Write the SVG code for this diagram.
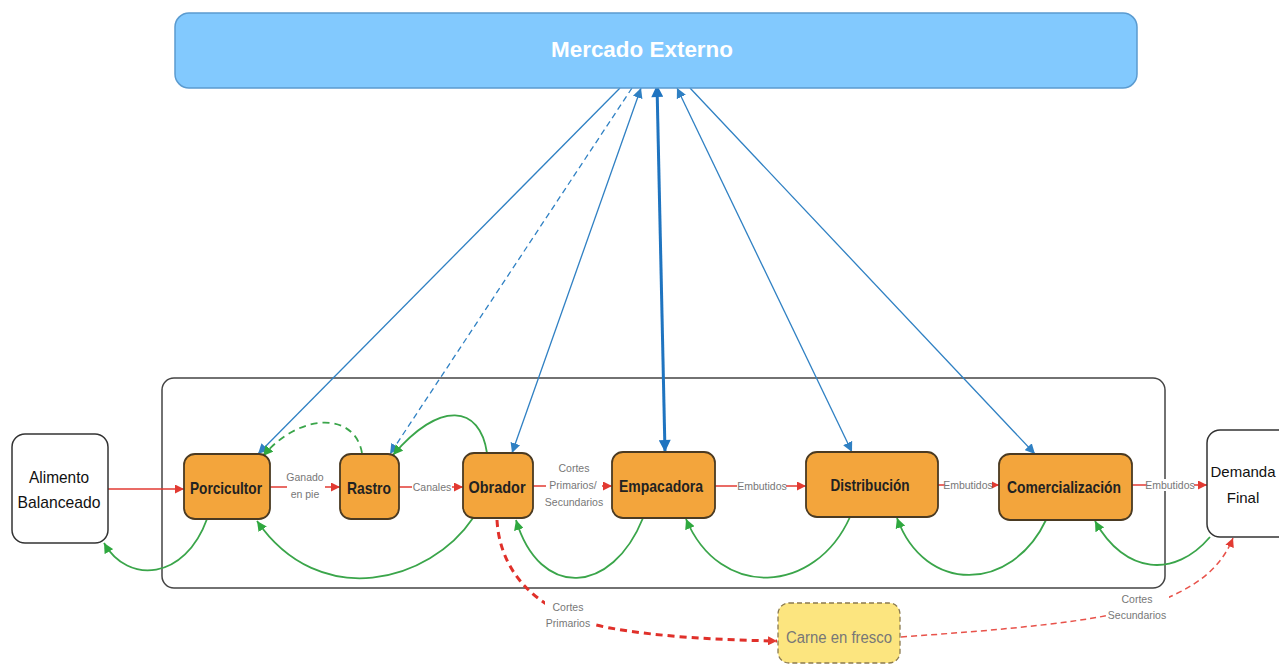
<svg xmlns="http://www.w3.org/2000/svg" width="1279" height="665" viewBox="0 0 1279 665">
  <style>
    .stage { fill: #f3a53c; stroke: #4a3a22; stroke-width: 1.8; }
    .plain { fill: #ffffff; stroke: #333333; stroke-width: 1.5; }
    .nt { font-family: "Liberation Sans", Arial, sans-serif; font-weight: bold; font-size: 17px; fill: #222222; text-anchor: middle; }
    .pt { font-family: "Liberation Sans", Arial, sans-serif; font-size: 17px; fill: #111111; text-anchor: middle; }
    .lbl { font-family: "Liberation Sans", Arial, sans-serif; font-size: 10.5px; fill: #777777; text-anchor: middle; }
    .lblbg { fill: #ffffff; }
    .red { fill: none; stroke: #e23a32; stroke-width: 1.5; }
    .blue { fill: none; stroke: #2f80c3; stroke-width: 1.3; }
    .green { fill: none; stroke: #3aa54a; stroke-width: 1.8; }
  </style>
  <defs>
    <marker id="ahRed" viewBox="0 0 10 10" refX="10" refY="5" markerWidth="9" markerHeight="9" markerUnits="userSpaceOnUse" orient="auto-start-reverse">
      <path d="M0,0 L10,5 L0,10 z" fill="#e23a32"/>
    </marker>
    <marker id="ahBlue" viewBox="0 0 10 10" refX="10" refY="5" markerWidth="10" markerHeight="10" markerUnits="userSpaceOnUse" orient="auto-start-reverse">
      <path d="M0,0 L10,5 L0,10 z" fill="#2f80c3"/>
    </marker>
    <marker id="ahBlueBig" viewBox="0 0 10 10" refX="10" refY="5" markerWidth="13" markerHeight="12" markerUnits="userSpaceOnUse" orient="auto-start-reverse">
      <path d="M0,0 L10,5 L0,10 z" fill="#1f74c0"/>
    </marker>
    <marker id="ahGreen" viewBox="0 0 10 10" refX="10" refY="5" markerWidth="10" markerHeight="10" markerUnits="userSpaceOnUse" orient="auto-start-reverse">
      <path d="M0,0 L10,5 L0,10 z" fill="#2fa83f"/>
    </marker>
  </defs>

  <rect width="1279" height="665" fill="#ffffff"/>

  <!-- supply chain frame -->
  <rect id="frame" x="162" y="378" width="1003" height="210" rx="12" fill="none" stroke="#444444" stroke-width="1.5"/>

  <g id="connectors">
    <!-- links to the external market -->
    <line class="blue" x1="620" y1="88" x2="258" y2="454" marker-end="url(#ahBlue)"/>
    <line class="blue" x1="632" y1="88" x2="390" y2="454" stroke-dasharray="6 4" marker-end="url(#ahBlue)"/>
    <line class="blue" x1="641" y1="88" x2="512" y2="453" marker-start="url(#ahBlue)" marker-end="url(#ahBlue)"/>
    <line x1="657" y1="85" x2="665" y2="452" fill="none" stroke="#1f74c0" stroke-width="3" marker-start="url(#ahBlueBig)" marker-end="url(#ahBlueBig)"/>
    <line class="blue" x1="677" y1="88" x2="852" y2="452" marker-start="url(#ahBlue)" marker-end="url(#ahBlue)"/>
    <line class="blue" x1="690" y1="88" x2="1035" y2="454" marker-end="url(#ahBlue)"/>

    <!-- forward product flow -->
    <line class="red" x1="108" y1="489" x2="184" y2="489" marker-end="url(#ahRed)"/>
    <line class="red" x1="270" y1="487" x2="340" y2="487" marker-end="url(#ahRed)"/>
    <line class="red" x1="399" y1="487" x2="463" y2="487" marker-end="url(#ahRed)"/>
    <line class="red" x1="533" y1="486" x2="612" y2="486" marker-end="url(#ahRed)"/>
    <line class="red" x1="715" y1="486" x2="806" y2="486" marker-end="url(#ahRed)"/>
    <line class="red" x1="938" y1="485" x2="999" y2="485" marker-end="url(#ahRed)"/>
    <line class="red" x1="1132" y1="485" x2="1207" y2="485" marker-end="url(#ahRed)"/>

    <!-- fresh meat channel -->
    <path d="M 497 520 C 500 575, 540 615, 610 628 C 660 637, 720 640, 777 641" fill="none" stroke="#e0302a" stroke-width="3" stroke-dasharray="7 5" marker-end="url(#ahRed)"/>
    <path d="M 901 637 C 1000 630, 1100 622, 1150 605 C 1195 588, 1220 570, 1233 538" fill="none" stroke="#e8524a" stroke-width="1.5" stroke-dasharray="6 4" marker-end="url(#ahRed)"/>

    <!-- feedback flows -->
    <path class="green" d="M 207 519 C 185 580, 128 585, 104 543" marker-end="url(#ahGreen)"/>
    <path class="green" d="M 473 518 C 430 582, 320 612, 257 521" marker-end="url(#ahGreen)"/>
    <path class="green" d="M 643 518 C 612 595, 540 600, 516 520" marker-end="url(#ahGreen)"/>
    <path class="green" d="M 850 517 C 815 595, 720 600, 686 519" marker-end="url(#ahGreen)"/>
    <path class="green" d="M 1046 520 C 1012 592, 925 595, 897 518" marker-end="url(#ahGreen)"/>
    <path class="green" d="M 1210 537 C 1175 578, 1125 575, 1095 521" marker-end="url(#ahGreen)"/>
    <path class="green" d="M 487 453 C 480 405, 440 400, 393 455" marker-end="url(#ahGreen)"/>
    <path class="green" d="M 362 453 C 355 412, 300 412, 263 456" stroke-dasharray="7 5" marker-end="url(#ahGreen)"/>

    <!-- edge labels -->
    <rect class="lblbg" x="287" y="469" width="38" height="32"/>
    <text class="lbl" x="305" y="481">Ganado</text>
    <text class="lbl" x="305" y="498">en pie</text>
    <rect class="lblbg" x="412" y="481" width="40" height="12"/>
    <text class="lbl" x="432" y="491">Canales</text>
    <rect class="lblbg" x="546" y="460" width="56" height="48"/>
    <text class="lbl" x="574" y="472">Cortes</text>
    <text class="lbl" x="573" y="489">Primarios/</text>
    <text class="lbl" x="574" y="506">Secundarios</text>
    <rect class="lblbg" x="737" y="480" width="49" height="12"/>
    <text class="lbl" x="762" y="490">Embutidos</text>
    <rect class="lblbg" x="945" y="479" width="47" height="12"/>
    <text class="lbl" x="968" y="489">Embutidos</text>
    <rect class="lblbg" x="1147" y="479" width="47" height="12"/>
    <text class="lbl" x="1170" y="489">Embutidos</text>
    <rect class="lblbg" x="545" y="600" width="48" height="28"/>
    <text class="lbl" x="568" y="611">Cortes</text>
    <text class="lbl" x="568" y="627">Primarios</text>
    <rect class="lblbg" x="1107" y="592" width="62" height="28"/>
    <text class="lbl" x="1137" y="603">Cortes</text>
    <text class="lbl" x="1137" y="619">Secundarios</text>
  </g>

  <g id="mercado-externo">
    <rect x="175" y="13" width="962" height="75" rx="14" fill="#82c9fe" stroke="#5b9bd0" stroke-width="1.5"/>
    <text x="642" y="57" font-family="Liberation Sans, Arial, sans-serif" font-weight="bold" font-size="22" fill="#ffffff" text-anchor="middle" textLength="182" lengthAdjust="spacingAndGlyphs">Mercado Externo</text>
  </g>

  <g id="alimento-balanceado">
    <rect class="plain" x="12" y="434" width="96" height="109" rx="13"/>
    <text class="pt" x="59" y="483" textLength="60" lengthAdjust="spacingAndGlyphs">Alimento</text>
    <text class="pt" x="59" y="508" textLength="83" lengthAdjust="spacingAndGlyphs">Balanceado</text>
  </g>

  <g id="porcicultor">
    <rect class="stage" x="184" y="454" width="86" height="65" rx="11"/>
    <text class="nt" x="226" y="494" textLength="72" lengthAdjust="spacingAndGlyphs">Porcicultor</text>
  </g>

  <g id="rastro">
    <rect class="stage" x="340" y="454" width="59" height="65" rx="11"/>
    <text class="nt" x="369" y="494" textLength="44" lengthAdjust="spacingAndGlyphs">Rastro</text>
  </g>

  <g id="obrador">
    <rect class="stage" x="463" y="453" width="70" height="65" rx="11"/>
    <text class="nt" x="497" y="493" textLength="57" lengthAdjust="spacingAndGlyphs">Obrador</text>
  </g>

  <g id="empacadora">
    <rect class="stage" x="612" y="452" width="103" height="66" rx="11"/>
    <text class="nt" x="661" y="492" textLength="84" lengthAdjust="spacingAndGlyphs">Empacadora</text>
  </g>

  <g id="distribucion">
    <rect class="stage" x="806" y="452" width="132" height="65" rx="11"/>
    <text class="nt" x="870" y="491" textLength="79" lengthAdjust="spacingAndGlyphs">Distribución</text>
  </g>

  <g id="comercializacion">
    <rect class="stage" x="999" y="454" width="133" height="66" rx="11"/>
    <text class="nt" x="1064" y="493" textLength="114" lengthAdjust="spacingAndGlyphs">Comercialización</text>
  </g>

  <g id="demanda-final">
    <rect class="plain" x="1207" y="430" width="90" height="107" rx="13"/>
    <text x="1243" y="477" font-family="Liberation Sans, Arial, sans-serif" font-size="15" fill="#111111" text-anchor="middle">Demanda</text>
    <text x="1243" y="503" font-family="Liberation Sans, Arial, sans-serif" font-size="15" fill="#111111" text-anchor="middle">Final</text>
  </g>

  <g id="carne-en-fresco">
    <rect x="778" y="603" width="122" height="60" rx="11" fill="#fce57f" stroke="#8a7a50" stroke-width="1.3" stroke-dasharray="5 3"/>
    <text x="839" y="643" font-family="Liberation Sans, Arial, sans-serif" font-size="16" fill="#777777" text-anchor="middle" textLength="106" lengthAdjust="spacingAndGlyphs">Carne en fresco</text>
  </g>
</svg>
